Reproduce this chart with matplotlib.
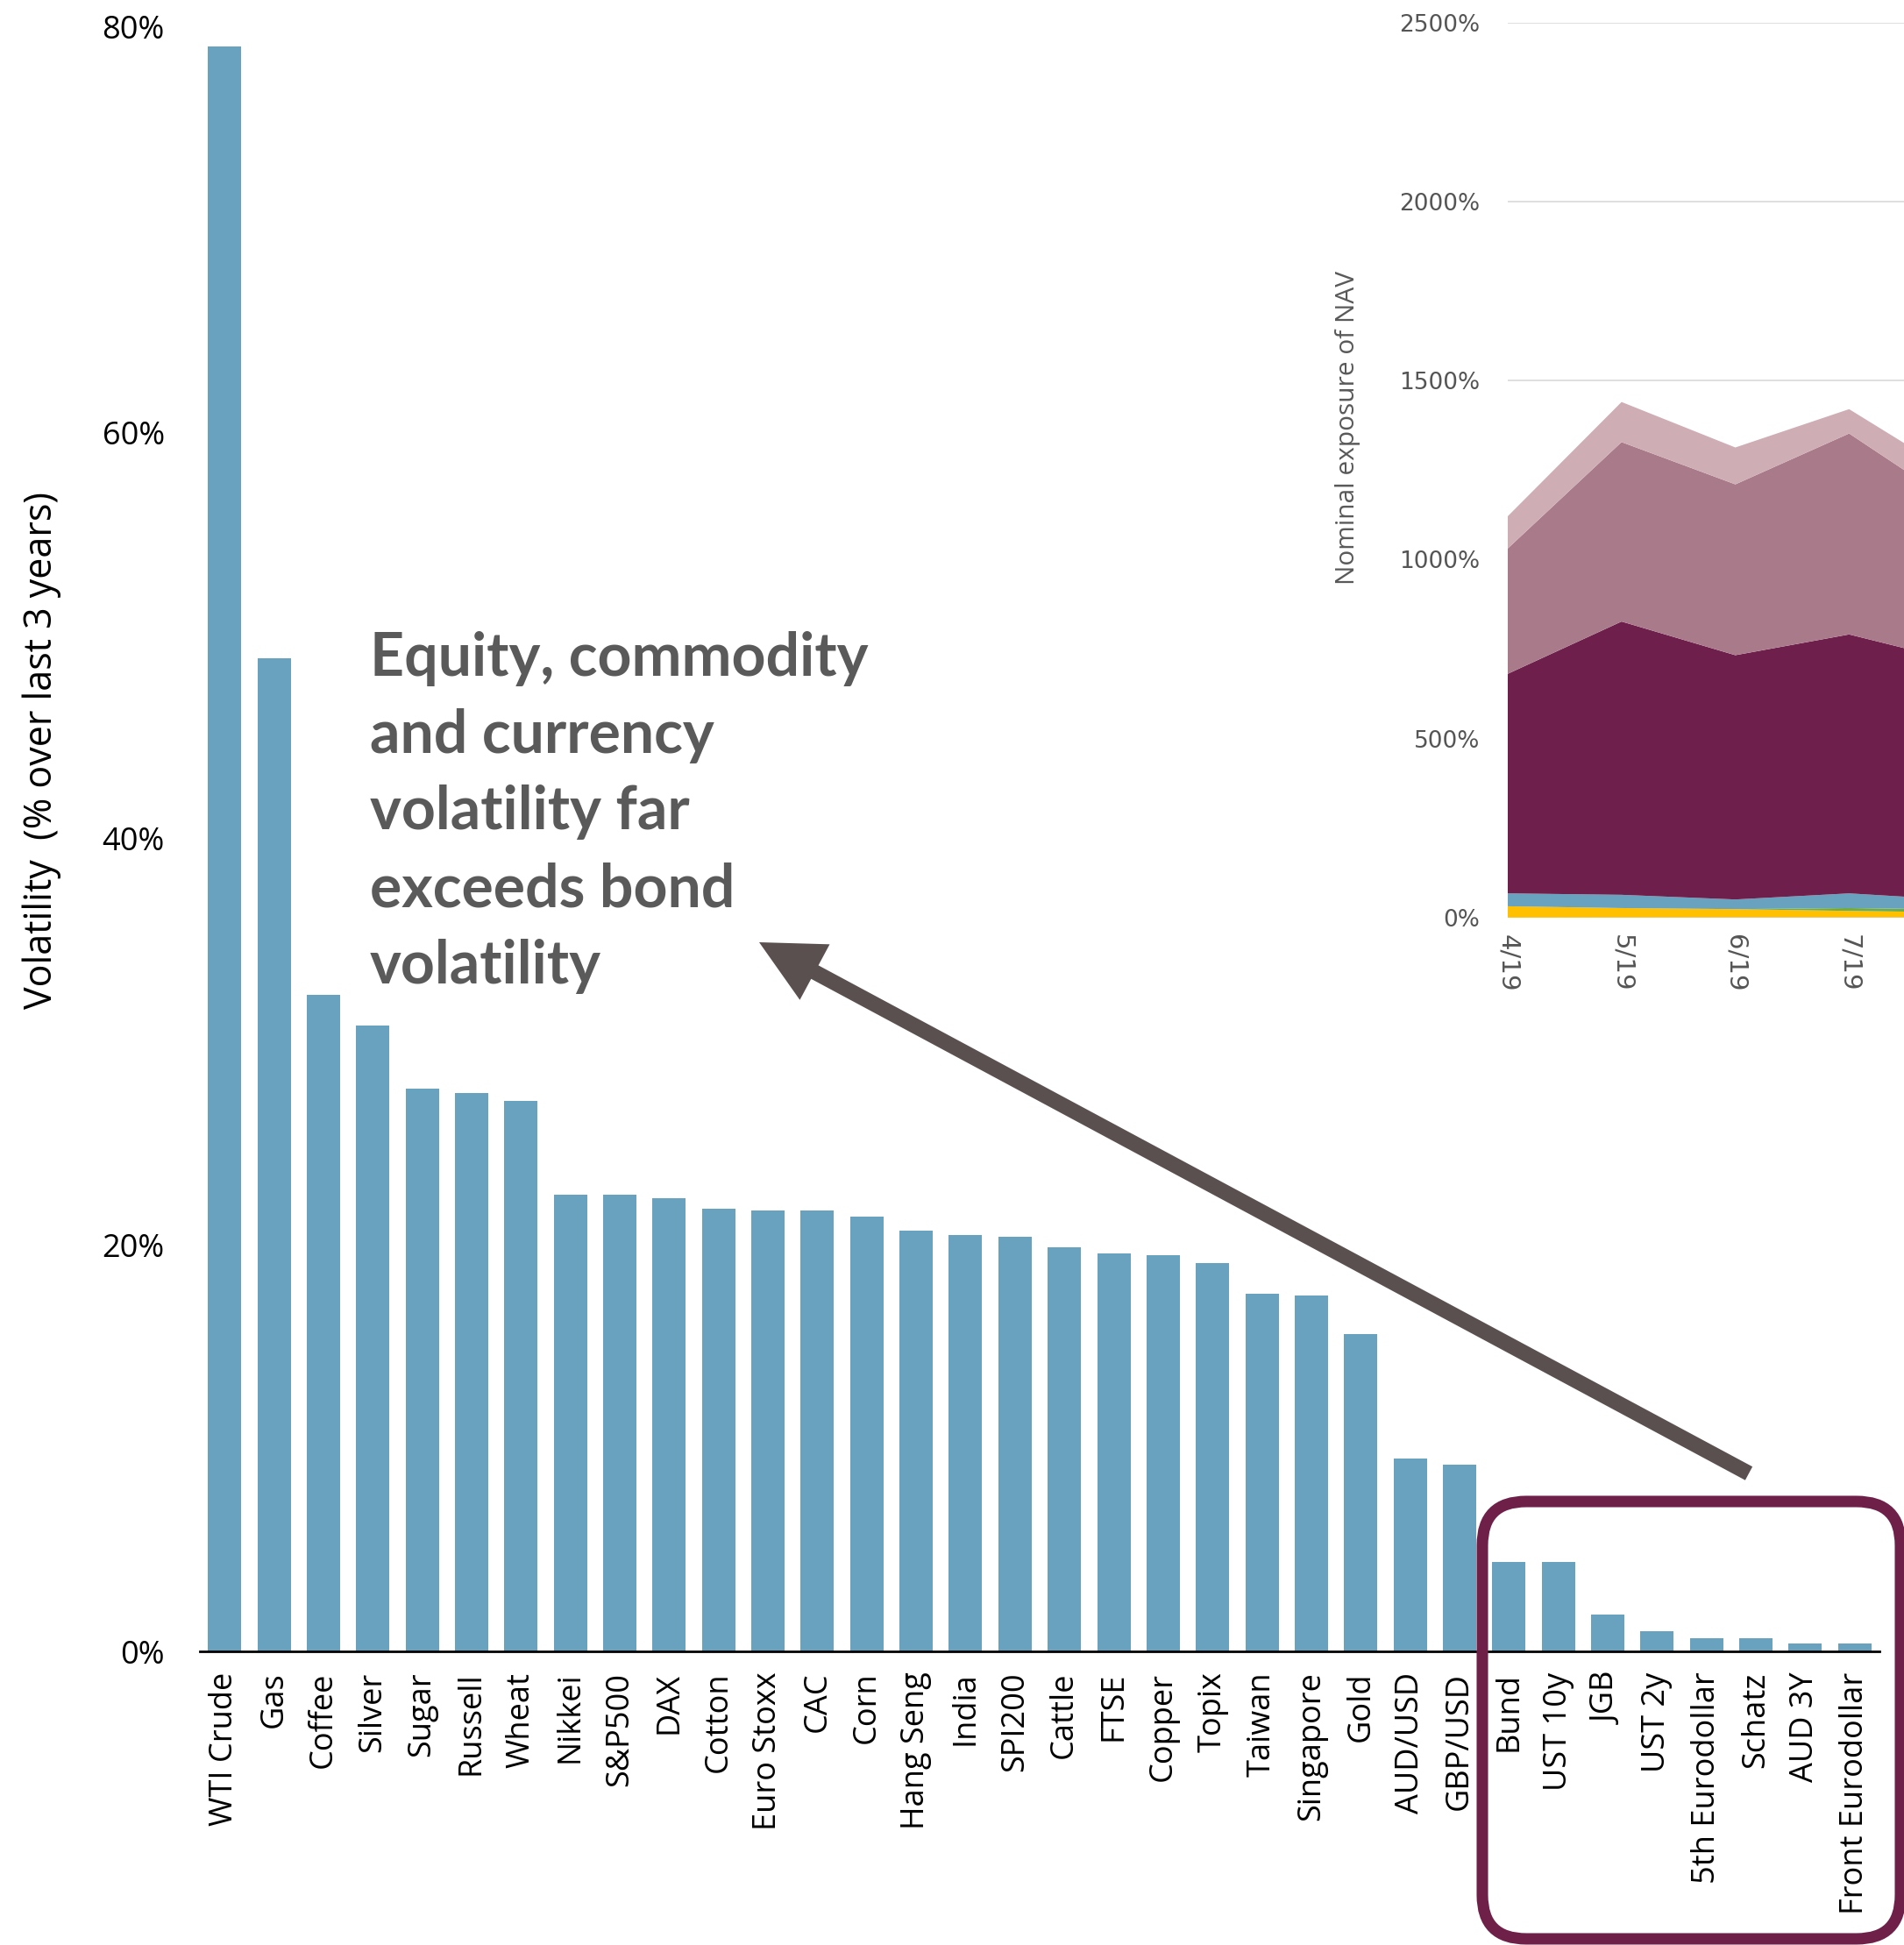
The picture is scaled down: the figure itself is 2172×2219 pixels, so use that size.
import matplotlib
matplotlib.use("Agg")
import matplotlib.pyplot as plt
from matplotlib.patches import FancyArrow, FancyBboxPatch
import numpy as np

# ---- Volatility by market (% over last 3 years) ----
markets = ["WTI Crude", "Gas", "Coffee", "Silver", "Sugar", "Russell", "Wheat",
           "Nikkei", "S&P500", "DAX", "Cotton", "Euro Stoxx", "CAC", "Corn",
           "Hang Seng", "India", "SPI200", "Cattle", "FTSE", "Copper", "Topix",
           "Taiwan", "Singapore", "Gold", "AUD/USD", "GBP/USD", "Bund",
           "UST 10y", "JGB", "UST 2y", "5th Eurodollar", "Schatz", "AUD 3Y",
           "Front Eurodollar"]
volatility = [79.0, 48.9, 32.3, 30.8, 27.7, 27.5, 27.1,
              22.5, 22.5, 22.3, 21.8, 21.7, 21.7, 21.4,
              20.7, 20.5, 20.4, 19.9, 19.6, 19.5, 19.1,
              17.6, 17.5, 15.6, 9.5, 9.2, 4.4,
              4.4, 1.8, 1.0, 0.65, 0.65, 0.4,
              0.4]
vol_ticks = [0, 20, 40, 60, 80]

# ---- Nominal exposure of NAV by month (stacked, %) ----
months = ["4/19", "5/19", "6/19", "7/19", "8/19"]
exp_other = [0.5, 1, 1.5, 1.5, 1.5]
exp_yellow = [31.5, 26, 22.5, 17.5, 13.5]
exp_green = [0, 0, 0, 8, 8]
exp_blue = [36, 37, 27, 41, 26]
exp_dark = [613, 763, 682, 723, 663]
exp_mauve = [350, 501, 477, 561, 429]
exp_light = [90, 112, 103, 68, 83]
exp_ticks = [0, 500, 1000, 1500, 2000, 2500]

W, H = 2172, 2219
fig = plt.figure(figsize=(W / 100, H / 100), dpi=100)

BAR = "#69a2be"
TXT = "Open Sans"

# ---------------- main bar chart ----------------
ax = fig.add_axes([228 / W, 1 - 1884 / H, (2144 - 228) / W, (1884 - 30) / H])
x = np.arange(len(markets))
ax.bar(x, volatility, width=0.675, color=BAR, zorder=2)
ax.set_xlim(-0.5, len(markets) - 0.5)
ax.set_ylim(0, 80)
ax.set_yticks(vol_ticks)
ax.set_yticklabels([f"{v}%" for v in vol_ticks], fontsize=26, family=TXT)
ax.set_xticks(x)
ax.set_xticklabels(markets, rotation=90, fontsize=26, family=TXT)
ax.tick_params(axis="both", length=0)
ax.tick_params(axis="y", pad=29)
ax.tick_params(axis="x", pad=17)
for s in ("top", "right", "left"):
    ax.spines[s].set_visible(False)
ax.spines["bottom"].set_linewidth(2.0)
ax.spines["bottom"].set_color("black")
ax.set_facecolor("none")

fig.text(48 / W, 1 - 856 / H, "Volatility  (% over last 3 years)", rotation=90,
         ha="center", va="center", fontsize=31, family=TXT)

# ---------------- exposure inset ----------------
month_w = 129.8
axi = fig.add_axes([1720 / W, 1 - 1047 / H, 4 * month_w / W, (1047 - 25.5) / H])
mx = np.arange(len(months))
axi.stackplot(mx, exp_other, exp_yellow, exp_green, exp_blue, exp_dark,
              exp_mauve, exp_light,
              colors=["#f4b183", "#ffc000", "#70ad47", "#69a2be", "#6e1f4b",
                      "#a97a8a", "#cfadb5"], linewidth=0, zorder=2)
axi.set_xlim(0, 4)
axi.set_ylim(0, 2500)
axi.set_yticks(exp_ticks)
axi.set_yticklabels([f"{v}%" for v in exp_ticks], fontsize=19,
                    family="DejaVu Sans", color="#555555")
# the last month sits past the figure edge, so only the first four get labels
axi.set_xticks(mx[:-1])
axi.set_xticklabels(months[:-1], rotation=270, fontsize=21, family="DejaVu Sans",
                    color="#555555")
axi.tick_params(axis="both", length=0)
axi.tick_params(axis="y", pad=23)
axi.tick_params(axis="x", pad=14)
axi.grid(axis="y", color="#d9d9d9", linewidth=1.2, zorder=0)
axi.set_axisbelow(True)
for s in axi.spines.values():
    s.set_visible(False)
axi.set_facecolor("none")

fig.text(1538 / W, 1 - 488 / H, "Nominal exposure of NAV", rotation=90,
         ha="center", va="center", fontsize=21.5, color="#595959",
         family=["Liberation Sans Narrow", "Open Sans"])

# ---------------- annotation ----------------
note_lines = ["Equity, commodity", "and currency", "volatility far",
              "exceeds bond", "volatility"]
for i, line in enumerate(note_lines):
    fig.text(422 / W, 1 - (771 + i * 87.7) / H, line, ha="left", va="baseline",
             fontsize=49, fontweight="bold", family="Lato", color="#5a5a5a")

arrow = FancyArrow(19.95, (H - 1681) / 100, 8.66 - 19.95, (1681 - 1075) / 100,
                   width=0.175, head_width=0.72, head_length=0.72,
                   length_includes_head=True, color="#5a5050", linewidth=0,
                   transform=fig.dpi_scale_trans)
fig.patches.append(arrow)

box = FancyBboxPatch((16.91, (H - 2212) / 100), 21.68 - 16.91, (2212 - 1713) / 100,
                     boxstyle="round,pad=0,rounding_size=0.5",
                     facecolor="none", edgecolor="#6e2049", linewidth=9.4,
                     transform=fig.dpi_scale_trans)
fig.patches.append(box)

fig.savefig("out.png", dpi=100)
